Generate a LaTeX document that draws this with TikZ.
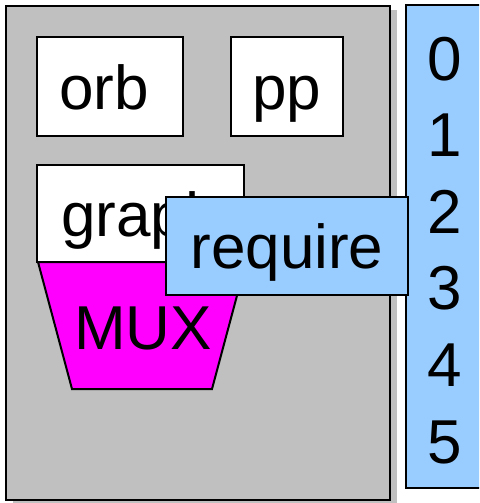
\documentclass[tikz,border=0pt]{standalone}
\usepackage{fontspec}
\setmainfont{Liberation Sans}
\definecolor{boxgray}{HTML}{C0C0C0}
\definecolor{lightblue}{HTML}{99CCFF}
\definecolor{muxmag}{HTML}{FF00FF}
\begin{document}
\begin{tikzpicture}[x=1pt,y=-1pt,
  every node/.style={font=\fontsize{62}{62}\selectfont, inner sep=0pt, outer sep=0pt},
  whitebox/.style={draw=black, line width=2pt, fill=white, rectangle, text height=45pt, text depth=0pt},
  bluebox/.style={draw=black, line width=2pt, fill=lightblue, rectangle, text height=45pt, text depth=0pt},
  digit/.style={anchor=base}]
\useasboundingbox (0,0) rectangle (479,503);
\begin{scope}
\clip (0,0) rectangle (479,503);
% gray container with shadow
\fill[boxgray] (13,10) rectangle (397,504);
\draw[line width=2pt, fill=boxgray] (6,6) rectangle (390,500);
% boxes
\node[whitebox, minimum width=146pt, minimum height=99pt] (orb) at (110,86.5) {};
\node[anchor=base] (orbtext) at (104,109) {orb};
\node[whitebox, minimum width=112pt, minimum height=99pt] (pp) at (286.5,86.5) {pp};
\node[whitebox, minimum width=207pt, minimum height=97pt] (graph) at (140.5,213.5) {graph};
% MUX trapezoid
\coordinate (m1) at (38,262);
\coordinate (m2) at (246,262);
\coordinate (m3) at (212,389);
\coordinate (m4) at (72,389);
\draw[line width=2pt, fill=muxmag, line join=miter] (m1) -- (m2) -- (m3) -- (m4) -- cycle;
\node[anchor=base] (mux) at (143,349) {MUX};
% right column
\draw[line width=2pt, fill=lightblue] (406,5) rectangle (490,488);
\node[digit] (d0) at (444.5,80) {0};
\node[digit] (d1) at (444.5,156.6) {1};
\node[digit] (d2) at (444.5,233.2) {2};
\node[digit] (d3) at (444.5,309.8) {3};
\node[digit] (d4) at (444.5,386.4) {4};
\node[digit] (d5) at (444.5,463) {5};
% require box
\node[bluebox, minimum width=242pt, minimum height=98pt] (req) at (287,246) {require};
\end{scope}
\end{tikzpicture}
\end{document}
